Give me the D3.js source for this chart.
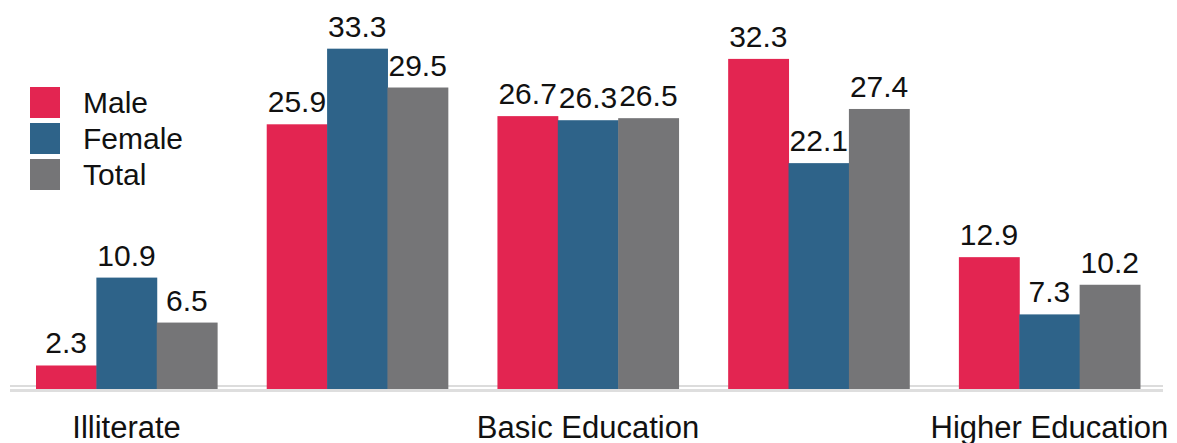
<!DOCTYPE html>
<html>
<head>
<meta charset="utf-8">
<script src="https://cdn.jsdelivr.net/npm/d3@7"></script>
<style>
  html, body { margin: 0; padding: 0; background: #fff; }
  svg { display: block; font-family: "Liberation Sans", Arial, sans-serif; }
</style>
</head>
<body>
<svg id="chart" width="1177" height="443"></svg>
<script>
// Education level groups; only some carry a visible axis label
const tickLabels = ["Illiterate", "", "Basic Education", "", "Higher Education"];
const seriesNames = ["Male", "Female", "Total"];
const maleValues   = [2.3, 25.9, 26.7, 32.3, 12.9];
const femaleValues = [10.9, 33.3, 26.3, 22.1, 7.3];
const totalValues  = [6.5, 29.5, 26.5, 27.4, 10.2];
const seriesColors = ["#E32551", "#2E6389", "#757577"];

const seriesValues = [maleValues, femaleValues, totalValues];
const groups = d3.range(tickLabels.length);

const svg = d3.select("#chart");

const x0 = d3.scaleBand()
  .domain(groups)
  .range([36, 1140])
  .paddingInner(0.215)
  .paddingOuter(0);

const x1 = d3.scaleBand()
  .domain(d3.range(seriesNames.length))
  .range([0, x0.bandwidth()])
  .padding(0);

const y = d3.scaleLinear()
  .domain([0, 34])
  .range([389, 389 - 34 * 10.22]);

const color = d3.scaleOrdinal().domain(d3.range(seriesNames.length)).range(seriesColors);

// upper light baseline (hidden behind bars)
svg.append("line")
  .attr("x1", 10).attr("x2", 1163)
  .attr("y1", 386).attr("y2", 386)
  .attr("stroke", "#dcdcdc").attr("stroke-width", 2);

// bars
const groupSel = svg.append("g").selectAll("g")
  .data(groups)
  .join("g")
  .attr("transform", g => `translate(${x0(g)},0)`);

groupSel.selectAll("rect")
  .data(g => seriesValues.map((vals, s) => ({ s, v: vals[g] })))
  .join("rect")
  .attr("x", d => x1(d.s))
  .attr("width", x1.bandwidth() + 0.5)
  .attr("y", d => y(d.v))
  .attr("height", d => y(0) - y(d.v))
  .attr("fill", d => color(d.s));

// value labels
groupSel.selectAll("text")
  .data(g => seriesValues.map((vals, s) => ({ s, v: vals[g] })))
  .join("text")
  .attr("x", d => x1(d.s) + x1.bandwidth() / 2)
  .attr("y", d => y(d.v) - 12)
  .attr("text-anchor", "middle")
  .attr("font-size", 30)
  .attr("fill", "#111")
  .text(d => d3.format(".1f")(d.v));

// lower baseline
svg.append("rect")
  .attr("x", 10).attr("width", 1153)
  .attr("y", 389).attr("height", 3)
  .attr("fill", "#dedede");

// x axis labels
const xAxis = d3.axisBottom(x0)
  .tickSize(0)
  .tickPadding(0)
  .tickFormat(i => tickLabels[i]);

const axisG = svg.append("g")
  .attr("transform", "translate(0,413)")
  .call(xAxis);
axisG.select(".domain").remove();
axisG.selectAll("text")
  .attr("font-size", 31)
  .attr("font-family", "'Liberation Sans', Arial, sans-serif")
  .attr("fill", "#111")
  .attr("dy", 0)
  .attr("y", 25);

// legend
const legend = svg.append("g").selectAll("g")
  .data(seriesNames)
  .join("g")
  .attr("transform", (d, i) => `translate(30,${87 + i * 36})`);

legend.append("rect")
  .attr("width", 30).attr("height", 31)
  .attr("fill", (d, i) => color(i));

legend.append("text")
  .attr("x", 53).attr("y", 26)
  .attr("font-size", 30)
  .attr("fill", "#111")
  .text(d => d);
</script>
</body>
</html>
